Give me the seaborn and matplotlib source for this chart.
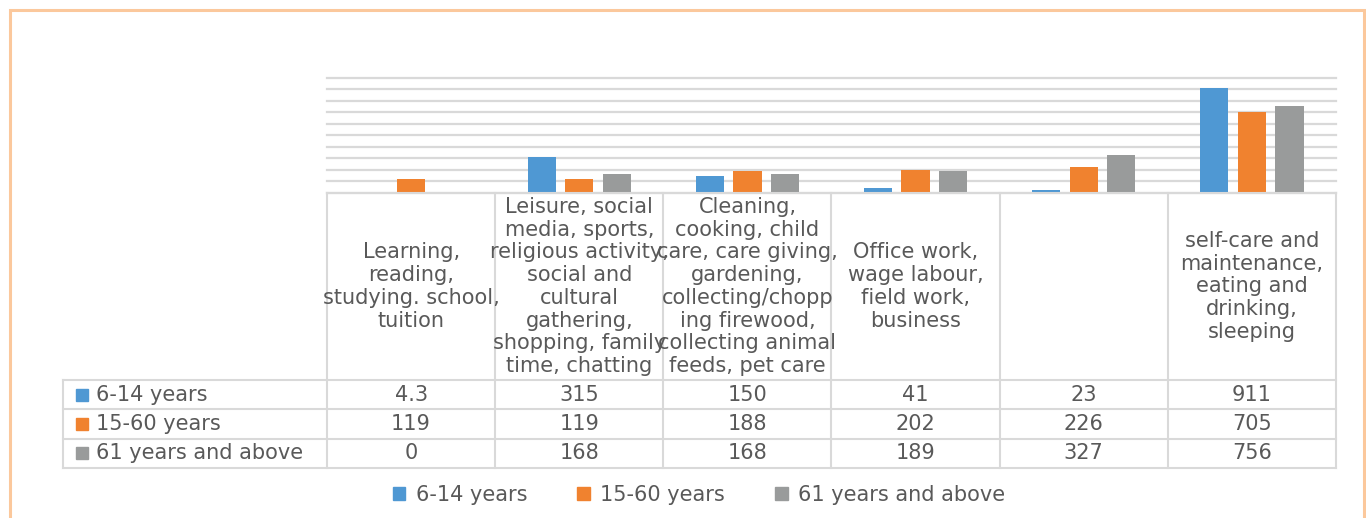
import numpy as np
import pandas as pd
import matplotlib
matplotlib.use('Agg')
import matplotlib.pyplot as plt
import matplotlib.patches as mpatches
import seaborn as sns

# categories (table header labels, wrapped as in the source sheet)
categories = [
    "Learning,\nreading,\nstudying. school,\ntuition",
    "Leisure, social\nmedia, sports,\nreligious activity,\nsocial and\ncultural\ngathering,\nshopping, family\ntime, chatting",
    "Cleaning,\ncooking, child\ncare, care giving,\ngardening,\ncollecting/chopp\ning firewood,\ncollecting animal\nfeeds, pet care",
    "Office work,\nwage labour,\nfield work,\nbusiness",
    "",
    "self-care and\nmaintenance,\neating and\ndrinking,\nsleeping",
]
series_names = ["6-14 years", "15-60 years", "61 years and above"]
age_6_14 = [4.3, 315, 150, 41, 23, 911]
age_15_60 = [119, 119, 188, 202, 226, 705]
age_61_up = [0, 168, 168, 189, 327, 756]
colors = ["#4f98d3", "#f0822f", "#999b9b"]

# long-form table for seaborn
df = pd.DataFrame({
    'activity': categories * 3,
    'group': np.repeat(series_names, len(categories)),
    'minutes': age_6_14 + age_15_60 + age_61_up,
})

W, H = 1366, 518
fig = plt.figure(figsize=(W / 100, H / 100), dpi=100)
text_col = '#595959'
line_col = '#d9d9d9'
fs = 15

# pixel layout
px_left, px_right = 327, 1336
px_top, px_base = 77.5, 193
ax = fig.add_axes([px_left / W, 1 - px_base / H, (px_right - px_left) / W, (px_base - px_top) / H])

sns.barplot(data=df, x='activity', y='minutes', hue='group', order=categories,
            hue_order=series_names, palette=colors, saturation=1, width=0.67, gap=0.25,
            linewidth=0, ax=ax, legend=False)
ax.set_xlim(-0.5, len(categories) - 0.5)
ax.set_ylim(0, 1000)
ax.set_yticks(np.arange(0, 1001, 100))
ax.yaxis.grid(True, color=line_col, linewidth=1.6)
for gl in ax.get_ygridlines():
    gl.set_clip_on(False)
ax.set_axisbelow(True)
ax.tick_params(left=False, bottom=False, labelleft=False, labelbottom=False)
for s in ax.spines.values():
    s.set_visible(False)
ax.set_xlabel('')
ax.set_ylabel('')

# data table below the bars
col_w = (px_right - px_left) / len(categories)
tab_left = 62.5
header_h = 380 - px_base
row_h = 29.3
tab_bottom = 380 + 3 * row_h
tab = fig.add_axes([tab_left / W, 1 - tab_bottom / H, (px_right - tab_left) / W, (tab_bottom - px_base) / H])
x0 = -0.5 - (px_left - tab_left) / col_w
tab.set_xlim(x0, len(categories) - 0.5)
tab.set_ylim(-3 * row_h, header_h)
tab.axis('off')

lw = 1.5
edges = np.arange(len(categories) + 1) - 0.5
for xe in edges:
    tab.plot([xe, xe], [-3 * row_h, header_h], color=line_col, lw=lw, clip_on=False)
tab.plot([x0, x0], [-3 * row_h, 0], color=line_col, lw=lw, clip_on=False)
tab.plot([edges[0], edges[-1]], [header_h, header_h], color=line_col, lw=lw, clip_on=False)
for k in range(4):
    tab.plot([x0, edges[-1]], [-k * row_h, -k * row_h], color=line_col, lw=lw, clip_on=False)

for i, lab in enumerate(categories):
    tab.text(i, header_h / 2, lab, ha='center', va='center', multialignment='center',
             fontsize=fs, color=text_col, linespacing=1.17)

for r, (name, vals, c) in enumerate(zip(series_names, [age_6_14, age_15_60, age_61_up], colors)):
    yc = -(r + 0.5) * row_h
    tab.plot([x0 + 19 / col_w], [yc], marker='s', ms=9, color=c, clip_on=False)
    tab.text(x0 + 33 / col_w, yc, name, ha='left', va='center', fontsize=fs, color=text_col)
    for i, v in enumerate(vals):
        tab.text(i, yc, f"{v:g}", ha='center', va='center', fontsize=fs, color=text_col)

# legend
handles = [mpatches.Patch(color=c, label=n) for n, c in zip(series_names, colors)]
fig.legend(handles=handles, loc='center', bbox_to_anchor=(699 / W, 1 - 495 / H), ncol=3,
           frameon=False, fontsize=fs, labelcolor=text_col, handlelength=0.6, handleheight=0.6,
           handletextpad=0.5, columnspacing=2.4)

# outer light-orange frame of the original chart area
frame = mpatches.Rectangle((10 / W, -0.2), (1364 - 10) / W, 1.2 - 10 / H, transform=fig.transFigure,
                           fill=False, edgecolor='#fbc89c', linewidth=2.2, clip_on=False)
fig.patches.append(frame)

fig.savefig('out.png', dpi=100, facecolor='white')
